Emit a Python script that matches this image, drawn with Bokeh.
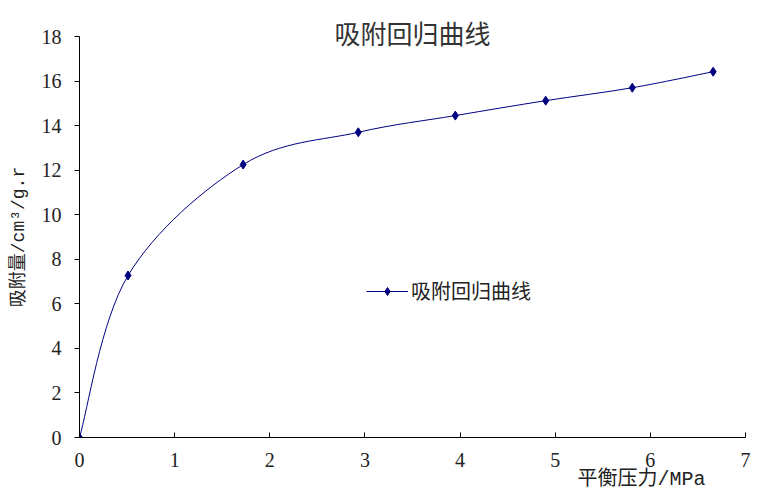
from bokeh.plotting import figure
from bokeh.models import Range1d, FixedTicker, Legend, LegendItem, Title
from bokeh.embed import file_html
from bokeh.resources import INLINE

# data
pressure = [0.0, 0.51, 1.72, 2.93, 3.95, 4.90, 5.81, 6.66]
adsorption = [0.0, 7.27, 12.25, 13.70, 14.45, 15.12, 15.70, 16.42]
x_ticks = [0, 1, 2, 3, 4, 5, 6, 7]
y_ticks = [0, 2, 4, 6, 8, 10, 12, 14, 16, 18]
title_text = "吸附回归曲线"
series_name = "吸附回归曲线"
x_label = "平衡压力/MPa"
y_label = "吸附量/cm³/g.r"

NAVY = "#000080"
SERIF = "'Liberation Serif', 'Noto Sans CJK SC'"
MONO = "'Liberation Mono', 'Noto Sans CJK SC'"
CJK = "'Noto Sans CJK SC'"

# smoothed line (Catmull-Rom style bezier segments, like a spreadsheet's smoothed line)
n = len(pressure)
def pt(i):
    i = max(0, min(n - 1, i))
    return pressure[i], adsorption[i]
x0s, y0s, x1s, y1s, cx0, cy0, cx1, cy1 = [], [], [], [], [], [], [], []
for i in range(n - 1):
    pa, pb, pc, pd = pt(i - 1), pt(i), pt(i + 1), pt(i + 2)
    x0s.append(pb[0]); y0s.append(pb[1])
    x1s.append(pc[0]); y1s.append(pc[1])
    cx0.append(pb[0] + (pc[0] - pa[0]) / 6); cy0.append(pb[1] + (pc[1] - pa[1]) / 6)
    cx1.append(pc[0] - (pd[0] - pb[0]) / 6); cy1.append(pc[1] - (pd[1] - pb[1]) / 6)

p = figure(width=757, height=492, output_backend="svg", toolbar_location=None,
           title=title_text, x_range=Range1d(0, 7), y_range=Range1d(0, 18),
           min_border_left=79, min_border_right=12, min_border_top=36, min_border_bottom=55)
p.outline_line_color = None
p.grid.visible = False
p.background_fill_color = "white"
p.border_fill_color = "white"

p.title.align = "center"
p.title.vertical_align = "bottom"
p.title.standoff = -28
p.title.text_font = CJK
p.title.text_font_size = "26px"
p.title.text_font_style = "normal"
p.title.text_color = "#333333"

bez = p.bezier(x0=x0s, y0=y0s, x1=x1s, y1=y1s, cx0=cx0, cy0=cy0, cx1=cx1, cy1=cy1,
               line_color=NAVY, line_width=1)
pts = p.scatter(pressure, adsorption, marker="diamond", size=9, fill_color=NAVY, line_color=NAVY)

legend = Legend(items=[LegendItem(label=series_name, renderers=[bez, pts])],
                location=(287, 132), padding=0, margin=0, glyph_width=42, glyph_height=20,
                label_standoff=3, border_line_alpha=0, background_fill_alpha=0,
                label_text_font=CJK, label_text_font_size="20px", label_text_color="#222222")
p.add_layout(legend, "center")

for ax in (p.xaxis, p.yaxis):
    ax.axis_line_color = "black"
    ax.major_tick_line_color = "black"
    ax.minor_tick_line_color = None
    ax.major_label_text_font = SERIF
    ax.major_label_text_font_size = "20px"
    ax.major_label_text_color = "#222222"

p.xaxis.ticker = FixedTicker(ticks=x_ticks)
p.xaxis.major_tick_in = 5
p.xaxis.major_tick_out = 0
p.xaxis.major_label_standoff = 15

p.yaxis.ticker = FixedTicker(ticks=y_ticks)
p.yaxis.major_tick_in = 0
p.yaxis.major_tick_out = 5
p.yaxis.major_label_standoff = 13
p.yaxis.axis_label = y_label
p.yaxis.axis_label_text_font = MONO
p.yaxis.axis_label_text_font_size = "18px"
p.yaxis.axis_label_text_font_style = "normal"
p.yaxis.axis_label_text_color = "#222222"
p.yaxis.axis_label_standoff = 10

p.add_layout(Title(text=x_label, align="right", vertical_align="bottom", offset=40, standoff=-7,
                   text_font=MONO, text_font_size="20px", text_font_style="normal",
                   text_color="#222222"), "below")

open("out.html", "w").write(file_html(p, INLINE))
